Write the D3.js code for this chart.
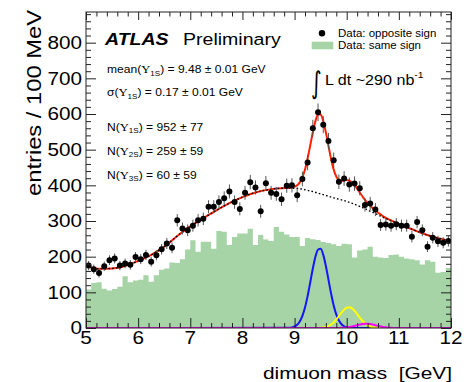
<!DOCTYPE html>
<html><head><meta charset="utf-8">
<script src="https://cdn.jsdelivr.net/npm/d3@7"></script>
<style>body{margin:0;background:#fff} svg{display:block} text{white-space:pre}</style>
</head><body>
<svg id="c" width="466" height="382"></svg>
<script>
// ---- data ----
const binLow = [5.0,5.1,5.2,5.3,5.4,5.5,5.6,5.7,5.8,5.9,6.0,6.1,6.2,6.3,6.4,6.5,6.6,6.7,6.8,6.9,
  7.0,7.1,7.2,7.3,7.4,7.5,7.6,7.7,7.8,7.9,8.0,8.1,8.2,8.3,8.4,8.5,8.6,8.7,8.8,8.9,
  9.0,9.1,9.2,9.3,9.4,9.5,9.6,9.7,9.8,9.9,10.0,10.1,10.2,10.3,10.4,10.5,10.6,10.7,10.8,10.9,
  11.0,11.1,11.2,11.3,11.4,11.5,11.6,11.7,11.8,11.9];
const oppositeSign = [175,165,154,173,190,195,175,181,177,199,193,205,186,204,221,237,225,302,279,274,
  287,302,306,340,340,353,364,383,353,334,379,409,394,327,406,379,376,361,399,400,
  372,418,464,560,605,570,524,470,410,419,402,405,392,345,349,332,289,290,287,291,
  287,287,256,297,274,228,253,243,239,244];
const sameSign = [108,126,128,110,105,109,116,145,128,133,135,148,130,148,163,167,184,182,193,220,
  246,214,242,242,222,272,270,233,255,265,265,278,233,261,248,244,283,270,262,255,
  255,230,252,249,247,241,238,235,230,236,235,198,217,220,228,200,198,196,205,206,
  200,195,193,190,178,190,186,155,157,168];
const bgMass = [5.0,5.25,5.5,5.75,6.0,6.25,6.5,6.75,7.0,7.25,7.5,7.75,8.0,8.25,8.5,8.75,9.0,9.25,9.5,9.75,10.0,10.25,10.5,10.75,11.0,11.25,11.5,11.75,12.0];
const bgFit = [175,166,167,174,188,205,228,258,285,308,330,350,367,380,388,392,392,386,376,365,355,341,324,307,292,277,263,252,244];
const sigMass = [8.90,8.95,9.00,9.05,9.10,9.15,9.20,9.25,9.30,9.35,9.40,9.45,9.50,9.55,9.60,9.65,9.70,9.75,9.80,9.85,
  9.90,9.95,10.00,10.05,10.10,10.15,10.20,10.25,10.30,10.35,10.40,10.45,10.50,10.55,10.60,10.65,10.70,10.75,10.80,10.85,
  10.90,10.95,11.00];
const bgFitFine = [392,392,392,391,390,389,387,386,384,382,380,378,376,374,372,370,367,365,363,361,
  359,357,355,352,349,347,344,341,338,334,331,327,324,321,317,314,310,307,304,301,298,295,292];
const fit1S = [0.7,1.7,4.2,9.1,18.4,34,57.5,89.4,127.5,166.8,200,220,222,205,174,135.5,96.7,63.3,38,20.9,
  10.6,4.9,2.1,0.8,0.3,0,0,0,0,0,0,0,0,0,0,0,0,0,0,0,0,0,0];
const fit2S = [0,0,0,0,0,0,0,0,0,0,0,0.3,0.6,1.4,2.9,5.5,9.7,15.8,23.8,33.2,
  42.9,51.2,56.6,57.9,54.9,48.1,39.1,29.4,20.4,13.2,7.8,4.3,2.2,1.0,0.5,0.2,0,0,0,0,0,0,0];
const fit3S = [0,0,0,0,0,0,0,0,0,0,0,0,0,0,0,0,0,0,0.1,0.2,
  0.5,0.9,1.6,2.7,4.1,5.8,7.7,9.5,11.0,11.9,11.9,11.2,9.8,8.0,6.1,4.4,2.9,1.8,1.0,0.6,0.3,0.1,0];
const xTickLabels = ["5","6","7","8","9","10","11","12"];
const yTickLabels = ["0","100","200","300","400","500","600","700","800"];

// ---- setup ----
const svg = d3.select('#c');
const x = d3.scaleLinear().domain([5,12]).range([86,451]);
const y = d3.scaleLinear().domain([0,886]).range([328,12]);
const SX = 1.15;
const SANS = "'Liberation Sans', Arial, Helvetica, sans-serif";
const SERIF = "'Liberation Serif', 'DejaVu Serif', serif";

svg.append('defs').append('clipPath').attr('id','pc')
  .append('rect').attr('x',86).attr('y',12).attr('width',365).attr('height',316);
const plot = svg.append('g').attr('clip-path','url(#pc)');

// same-sign histogram
const histData = binLow.map((lo,i)=>[lo, sameSign[i]]).concat([[12, sameSign[sameSign.length-1]]]);
plot.append('path').datum(histData)
  .attr('d', d3.area().curve(d3.curveStepAfter).x(d=>x(d[0])).y0(y(0)).y1(d=>y(d[1])))
  .attr('fill','#a6d4a6').attr('stroke','none');

// total fit (red)
const totalPts = [];
bgMass.forEach((m,i)=>{ if(m < sigMass[0]) totalPts.push([m, bgFit[i]]); });
sigMass.forEach((m,i)=>totalPts.push([m, bgFitFine[i]+fit1S[i]+fit2S[i]+fit3S[i]]));
bgMass.forEach((m,i)=>{ if(m > sigMass[sigMass.length-1]) totalPts.push([m, bgFit[i]]); });
const line = d3.line().curve(d3.curveMonotoneX).x(d=>x(d[0])).y(d=>y(d[1]));
plot.append('path').datum(totalPts).attr('d', line)
  .attr('fill','none').attr('stroke','#ff2200').attr('stroke-width',2);
// background (dotted)
plot.append('path').datum(bgMass.map((m,i)=>[m,bgFit[i]])).attr('d', line)
  .attr('fill','none').attr('stroke','#000').attr('stroke-width',1.4).attr('stroke-dasharray','1.6,2.2');

// signal components
function comp(vals, color){
  const pts = [[5,0]].concat(sigMass.map((m,i)=>[m, vals[i]])).concat([[12,0]]);
  plot.append('path').datum(pts).attr('d', line)
    .attr('fill','none').attr('stroke',color).attr('stroke-width',2);
}
comp(fit1S, '#1515ff');
comp(fit2S, '#ffff00');
comp(fit3S, '#ff00ff');

// data points (opposite sign)
const pts = plot.append('g');
binLow.forEach((lo,i)=>{
  const v = oppositeSign[i], e = Math.sqrt(v), cx = x(lo+0.05);
  pts.append('line').attr('x1',cx).attr('x2',cx).attr('y1',y(v-e)).attr('y2',y(v+e))
    .attr('stroke','#555').attr('stroke-width',1);
  pts.append('circle').attr('cx',cx).attr('cy',y(v)).attr('r',3).attr('fill','#000');
});

// ---- axes / frame ----
const yMajor = d3.range(0, 801, 100), yMinor = d3.range(0, 886, 20).filter(v=>v%100!==0);
const xMajor = d3.range(5, 12.001, 1), xMinor = d3.range(5, 12.001, 0.2).filter(v=>Math.abs(v-Math.round(v))>1e-6);
function ax(axisFn, scale, vals, size, tx, ty){
  const g = svg.append('g').attr('transform',`translate(${tx},${ty})`)
    .call(axisFn(scale).tickValues(vals).tickSize(size).tickFormat(''));
  g.select('.domain').remove();
  g.selectAll('line').attr('stroke','#222').attr('stroke-width',1);
}
ax(d3.axisRight, y, yMajor, 10, 86, 0);
ax(d3.axisRight, y, yMinor, 5, 86, 0);
ax(d3.axisLeft, y, yMajor, 10, 451, 0);
ax(d3.axisLeft, y, yMinor, 5, 451, 0);
ax(d3.axisTop, x, xMajor, 10, 0, 328);
ax(d3.axisTop, x, xMinor, 5, 0, 328);
ax(d3.axisBottom, x, xMajor, 8, 0, 12);
ax(d3.axisBottom, x, xMinor, 4.5, 0, 12);
svg.append('rect').attr('x',86).attr('y',12).attr('width',365).attr('height',316)
  .attr('fill','none').attr('stroke','#222').attr('stroke-width',1);

// ---- text helper ----
function T(px, py, size, anchor, family){
  return svg.append('text').attr('transform',`translate(${px},${py}) scale(${SX},1)`)
    .attr('font-family', family||SANS).attr('font-size',size).attr('text-anchor',anchor||'start').attr('fill','#000');
}
xMajor.forEach((v,i)=>T(x(v), 344, 18, 'middle').text(xTickLabels[i]));
yMajor.forEach((v,i)=>T(82, y(v)+6.3, 18, 'end').text(yTickLabels[i]));

T(452, 379, 17, 'end').attr('textLength', 189/SX).attr('lengthAdjust','spacingAndGlyphs').text('dimuon mass  [GeV]');
svg.append('text').attr('transform','translate(41,10) rotate(-90)')
  .attr('font-family',SANS).attr('font-size',20.5).attr('text-anchor','end')
  .attr('textLength',186).attr('lengthAdjust','spacingAndGlyphs').text('entries / 100 MeV');

T(105, 45, 17, 'start').attr('font-weight','bold').attr('font-style','italic').text('ATLAS');
T(183, 45, 17, 'start').text('Preliminary');

function ups(px, py, pre, sub, post){
  const t = T(px, py, 10.5, 'start');
  t.append('tspan').text(pre);
  t.append('tspan').attr('font-family',SERIF).attr('font-size',11).text('Υ');
  t.append('tspan').attr('font-size',7).attr('dy',2.5).text(sub);
  t.append('tspan').attr('dy',-2.5).text(post);
}
ups(107, 73, 'mean(', '1S', ') = 9.48 ± 0.01 GeV');
ups(107, 96, 'σ(', '1S', ') = 0.17 ± 0.01 GeV');
ups(107, 130.5, 'N(', '1S', ') = 952 ± 77');
ups(107, 154.5, 'N(', '2S', ') = 259 ± 59');
ups(107, 178.5, 'N(', '3S', ') = 60 ± 59');

// legend
svg.append('circle').attr('cx',322).attr('cy',33.3).attr('r',3.2).attr('fill','#000');
T(338, 36.5, 10, 'start').text('Data: opposite sign');
svg.append('rect').attr('x',311.7).attr('y',41.7).attr('width',21.6).attr('height',7.6).attr('fill','#a6d4a6');
T(338, 48.5, 10, 'start').text('Data: same sign');

// luminosity
svg.append('text').attr('transform','translate(311,93) scale(0.85,1.25)').attr('font-family',"'DejaVu Sans', sans-serif")
  .attr('font-size',24).text('∫');
const lt = T(325, 85, 14, 'start');
lt.append('tspan').text('L dt ~290 nb');
lt.append('tspan').attr('font-size',9).attr('dy',-7).text('-1');
</script>
</body></html>
